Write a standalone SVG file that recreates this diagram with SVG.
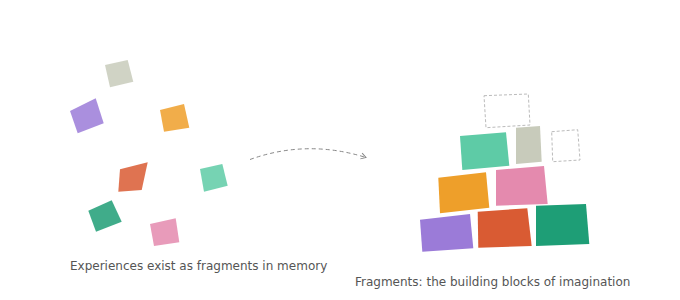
<svg xmlns="http://www.w3.org/2000/svg" width="680" height="300" viewBox="0 0 680 300">
<defs>
<style>
.lbl{font-family:"DejaVu Sans",sans-serif;font-size:12px;fill:#555}
.frag{opacity:0.85}
.dash{fill:none;stroke:#bbb;stroke-width:1;stroke-dasharray:3 2}
.conn{fill:none;stroke:#888;stroke-width:1;stroke-dasharray:4 3}
.purple{fill:#9b7bd8}.red{fill:#d95b33}.green{fill:#1e9e76}.orange{fill:#ee9f2a}.pink{fill:#e48aae}.teal{fill:#5ecba6}.gray{fill:#c8cbbb}
</style>
<marker id="arr" markerWidth="8" markerHeight="8" refX="6" refY="4" orient="auto" markerUnits="userSpaceOnUse">
<path d="M1,1 L6,4 L1,7" fill="none" stroke="#888" stroke-width="1"/>
</marker>
</defs>
<rect width="680" height="300" fill="#fff"/>
<g id="scattered">
<polygon id="s-gray" class="frag gray" points="105,65 127.7,60 133.3,81.7 110,87.3"/>
<polygon id="s-purple" class="frag purple" points="70,111 95.7,98.3 103.7,123.3 77.7,133.3"/>
<polygon id="s-orange" class="frag orange" points="160,110 184,104 189.3,127.7 164,131.7"/>
<polygon id="s-red" class="frag red" points="120,169.3 147.7,162.3 141.7,190 118.3,191.7"/>
<polygon id="s-teal" class="frag teal" points="200,169 222.3,164 227.7,185.7 204,191.7"/>
<polygon id="s-green" class="frag green" points="88.3,210.7 111.7,200.3 121.7,221.7 96,231.7"/>
<polygon id="s-pink" class="frag pink" points="150,224 175.7,218.3 179.3,242.3 154,246"/>
</g>
<g id="connectors">
<path class="conn" d="M250,159.5 Q307,139 366,157.5" marker-end="url(#arr)"/>
</g>
<g id="stack">
<polygon id="b-dash-top" class="dash" points="484,95.7 528.3,94 530,125 486,127.7"/>
<polygon id="b-teal" class="teal" points="460,136 506,132.3 509.3,165.7 462.3,170"/>
<polygon id="b-gray" class="gray" points="516,127.7 540,126 541.7,161.7 516,164"/>
<polygon id="b-dash-small" class="dash" points="551.7,131.7 577.7,129.7 580,160 552.7,161.7"/>
<polygon id="b-orange" class="orange" points="438.3,177.7 486,172.3 489.3,207.7 440,213.3"/>
<polygon id="b-pink" class="pink" points="496,170 544,166 547.7,204 496,205.7"/>
<polygon id="b-purple" class="purple" points="420,219.7 470,214 473.3,248.3 422.3,251.7"/>
<polygon id="b-red" class="red" points="477.7,211.7 527.3,208.3 531.7,246 478.3,247.7"/>
<polygon id="b-green" class="green" points="536,205.7 586,204 589.3,244 536,246"/>
</g>
<text class="lbl" x="70" y="270">Experiences exist as fragments in memory</text>
<text class="lbl" x="355" y="285.5">Fragments: the building blocks of imagination</text>
</svg>
